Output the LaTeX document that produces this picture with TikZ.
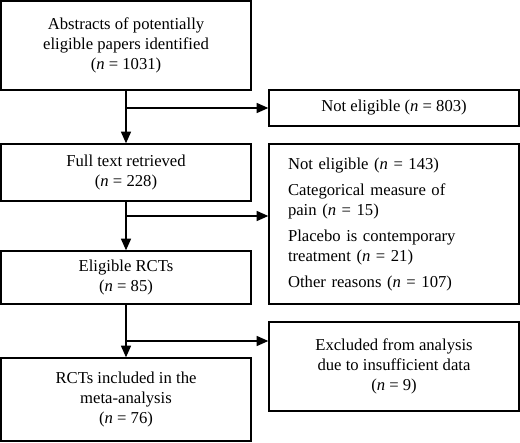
\documentclass[tikz,border=0pt]{standalone}
\usepackage{fontspec}
\setmainfont{Liberation Serif}
\usepackage{tikz}
\usetikzlibrary{calc, arrows.meta}
\tikzset{box/.style={draw, thick, rectangle, minimum width=150pt, inner sep=0pt, align=center, font=\fontsize{10}{12}\selectfont},
	link/.style={thick, -{Triangle[length=7pt, width=6pt]}}}

\begin{document}
\begin{tikzpicture}[x=0.6pt, y=-0.6pt]
	\useasboundingbox (0,0) rectangle (520,443);

% left boxs
	\node[box, minimum height=53.4pt] (abs) at (126,45.5) {Abstracts of potentially\\eligible papers identified\\(\textit{n} = 1031)};
	\node[box, minimum height=34.2pt] (full) at (126,172.5) {Full text retrieved\\(\textit{n} = 228)};
	\node[box, minimum height=31.8pt] (elig) at (126,277.5) {Eligible RCTs\\(\textit{n} = 85)};
	\node[box, minimum height=49.8pt] (incl) at (126,399.5) {RCTs included in the\\meta-analysis\\(\textit{n} = 76)};

% right boxs
	\node[box, minimum height=21.6pt] (ne1) at (394,108) {Not eligible (\textit{n} = 803)};
	\node[box, minimum height=96pt, text width=127.2pt, inner xsep=11.4pt, align=left] (ne2) at (394,224) {Not eligible (\textit{n} = 143)\\[3.6pt]Categorical measure of\\pain (\textit{n} = 15)\\[3.6pt]Placebo is contemporary\\treatment (\textit{n} = 21)\\[3.6pt]Other reasons (\textit{n} = 107)};
	\node[box, minimum height=53.4pt] (excl) at (394,366.5) {Excluded from analysis\\due to insufficient data\\(\textit{n} = 9)};

% links
	\coordinate (b1) at (abs.south |- ne1.west);
	\coordinate (b2) at (126,216);
	\coordinate (b3) at (126,341);

	\draw[link] (abs) -- (full);
	\draw[link] (full) -- (elig);
	\draw[link] (elig) -- (incl);

	\draw[link] (b1) -- (ne1);
	\draw[link] (b2) -- (b2 -| ne2.west);
	\draw[link] (b3) -- (b3 -| excl.west);

\end{tikzpicture}
\end{document}
